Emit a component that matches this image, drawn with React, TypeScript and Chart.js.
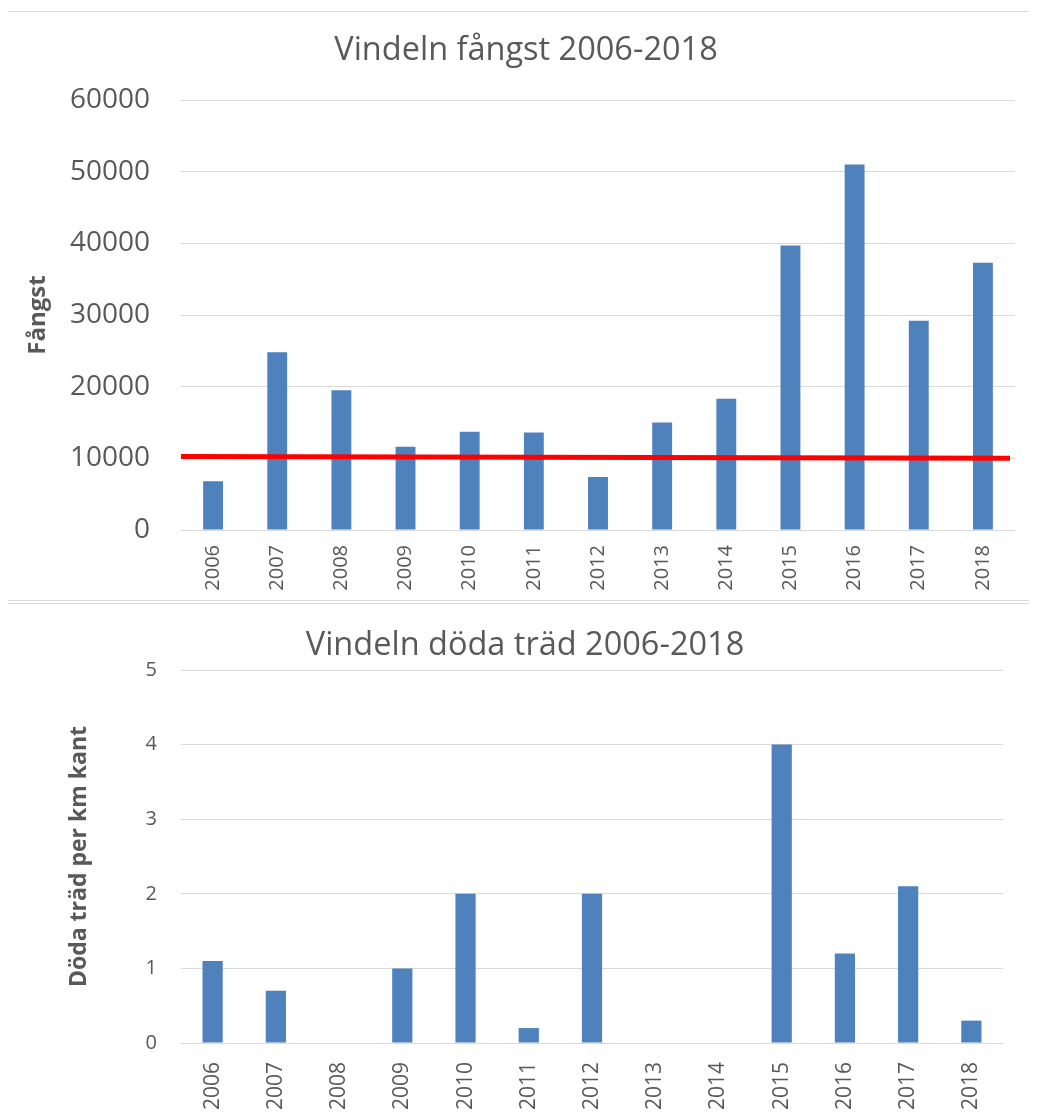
import React, { useEffect, useRef } from "react";
import { Chart, registerables } from "chart.js";

Chart.register(...registerables);

const years = ["2006","2007","2008","2009","2010","2011","2012","2013","2014","2015","2016","2017","2018"];
const fangst = [6800, 24800, 19500, 11600, 13700, 13600, 7400, 15000, 18300, 39700, 51000, 29200, 37300];
const redLine = [{ x: 0, y: 10250 }, { x: 0.994, y: 10000 }];
const dodaTrad = [1.1, 0.7, 0, 1.0, 2.0, 0.2, 2.0, 0, 0, 4.0, 1.2, 2.1, 0.3];

const FONT = "'Open Sans', 'Noto Sans', sans-serif";
const GREY = "#595959";
const GRID = "#d9d9d9";
const BAR = "#4f81bd";

function TopChart() {
  const ref = useRef<HTMLCanvasElement>(null);
  useEffect(() => {
    const chart = new Chart(ref.current!, {
      type: "bar",
      data: {
        labels: years,
        datasets: [
          {
            type: "line",
            data: redLine as any,
            xAxisID: "x2",
            borderColor: "#ff0000",
            borderWidth: 5,
            pointRadius: 0,
            order: 0,
          } as any,
          {
            type: "bar",
            data: fangst,
            backgroundColor: BAR,
            borderWidth: 0,
            barPercentage: 0.31,
            categoryPercentage: 1,
            grouped: false,
            order: 1,
          } as any,
        ],
      },
      options: {
        responsive: false,
        animation: false,
        layout: { padding: { left: 29, right: 22, top: 0, bottom: 0 } },
        plugins: {
          legend: { display: false },
          tooltip: { enabled: false },
          title: {
            display: true,
            text: "Vindeln fångst 2006-2018",
            color: GREY,
            font: { family: FONT, size: 32.5, weight: "normal" },
            padding: { top: 23, bottom: 30 },
          },
        },
        scales: {
          x: {
            type: "category",
            grid: { display: false, drawTicks: false },
            border: { display: false },
            ticks: {
              color: GREY,
              font: { family: FONT, size: 20 },
              maxRotation: 90,
              minRotation: 90,
              padding: 15,
            },
            afterFit: (s: any) => { s.height = 70; },
          },
          x2: {
            type: "linear",
            display: false,
            offset: false,
            min: 0,
            max: 1,
          },
          y: {
            min: 0,
            max: 60000,
            ticks: {
              stepSize: 10000,
              color: GREY,
              font: { family: FONT, size: 28 },
              padding: 31,
              callback: (v: any) => String(v),
            },
            grid: { color: GRID, lineWidth: 1, drawTicks: false },
            border: { display: false },
            title: {
              display: true,
              text: "Fångst",
              color: GREY,
              font: { family: FONT, size: 24, weight: "bold" },
              padding: { top: -13.4, bottom: 0 },
            },
            afterFit: (s: any) => { s.width = 144; },
          },
        },
      },
    });
    return () => chart.destroy();
  }, []);
  return (
    <canvas
      ref={ref}
      width={1029}
      height={592}
      style={{ position: "absolute", left: 0, top: 0 }}
    />
  );
}

function BottomChart() {
  const ref = useRef<HTMLCanvasElement>(null);
  useEffect(() => {
    const chart = new Chart(ref.current!, {
      type: "bar",
      data: {
        labels: years,
        datasets: [
          {
            data: dodaTrad,
            backgroundColor: BAR,
            borderWidth: 0,
            barPercentage: 0.32,
            categoryPercentage: 1,
          },
        ],
      },
      options: {
        responsive: false,
        animation: false,
        layout: { padding: { left: 39, right: 34, top: 0, bottom: 0 } },
        plugins: {
          legend: { display: false },
          tooltip: { enabled: false },
          title: {
            display: true,
            text: "Vindeln döda träd 2006-2018",
            color: GREY,
            font: { family: FONT, size: 32.5, weight: "normal" },
            padding: { top: 22, bottom: 5 },
          },
        },
        scales: {
          x: {
            grid: { display: false, drawTicks: false },
            border: { display: false },
            ticks: {
              color: GREY,
              font: { family: FONT, size: 21 },
              maxRotation: 90,
              minRotation: 90,
              padding: 19,
            },
            afterFit: (s: any) => { s.height = 72; },
          },
          y: {
            min: 0,
            max: 5,
            ticks: {
              stepSize: 1,
              color: GREY,
              font: { family: FONT, size: 20 },
              padding: 24,
            },
            grid: { color: GRID, lineWidth: 1, drawTicks: false },
            border: { display: false },
            title: {
              display: true,
              text: "Döda träd per km kant",
              color: GREY,
              font: { family: FONT, size: 23, weight: "bold" },
              padding: { top: 19, bottom: 0 },
            },
            afterFit: (s: any) => { s.width = 134; },
          },
        },
      },
    });
    return () => chart.destroy();
  }, []);
  return (
    <canvas
      ref={ref}
      width={1029}
      height={511}
      style={{ position: "absolute", left: 0, top: 596 }}
    />
  );
}

export default function App() {
  useEffect(() => {
    document.body.style.overflow = "hidden";
  }, []);
  return (
    <div style={{ position: "relative", width: 1029, height: 1107, background: "#fff" }}>
      <div
        style={{
          position: "absolute",
          left: -1,
          top: 3,
          width: 1100,
          height: 590,
          boxSizing: "border-box",
          border: "1px solid #d9d9d9",
        }}
      />
      <div
        style={{
          position: "absolute",
          left: -1,
          top: 595,
          width: 1100,
          height: 600,
          boxSizing: "border-box",
          border: "1px solid #d9d9d9",
        }}
      />
      <TopChart />
      <BottomChart />
    </div>
  );
}
